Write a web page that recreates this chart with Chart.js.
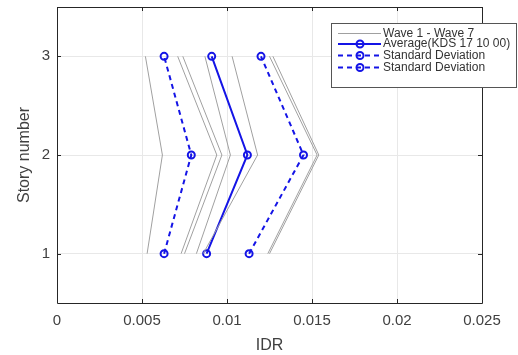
<!DOCTYPE html>
<html>
<head>
<meta charset="utf-8">
<script src="https://cdn.jsdelivr.net/npm/chart.js@4/dist/chart.umd.min.js"></script>
<style>
  html, body { margin: 0; padding: 0; background: #fff; }
  #wrap { width: 518px; height: 355px; }
</style>
</head>
<body>
<div id="wrap"><canvas id="myChart"></canvas></div>
<script>
// story levels (y) and inter-story drift ratios (x), listed story 1 -> 3
var stories = [1, 2, 3];
var wave1 = [0.0053, 0.0062, 0.0052];
var wave2 = [0.0073, 0.0094, 0.0071];
var wave3 = [0.0075, 0.0097, 0.0074];
var wave4 = [0.0082, 0.0102, 0.0087];
var wave5 = [0.0086, 0.0118, 0.0103];
var wave6 = [0.0124, 0.0153, 0.0125];
var wave7 = [0.0125, 0.0154, 0.0127];
var average = [0.0088, 0.0112, 0.0091];
var sdLow = [0.0063, 0.0079, 0.0063];
var sdHigh = [0.0113, 0.0145, 0.0120];

var xTicks = [0, 0.005, 0.01, 0.015, 0.02, 0.025];
var yTicks = [1, 2, 3];
var legendLabels = ['Wave 1 - Wave 7', 'Average(KDS 17 10 00)', 'Standard Deviation', 'Standard Deviation'];

var blue = 'rgb(20,20,230)';
var gray = 'rgb(160,160,160)';

function toPoints(xs) {
  return xs.map(function (x, i) { return { x: x, y: stories[i] }; });
}

var waves = [wave1, wave2, wave3, wave4, wave5, wave6, wave7];
var datasets = waves.map(function (w) {
  return { data: toPoints(w), showLine: true, borderColor: gray, borderWidth: 1, pointRadius: 0 };
});
datasets.push({ data: toPoints(average), showLine: true, borderColor: blue, borderWidth: 2,
  pointRadius: 3.5, pointBorderWidth: 2, pointBorderColor: blue, pointBackgroundColor: 'rgba(0,0,0,0)' });
[sdLow, sdHigh].forEach(function (s) {
  datasets.push({ data: toPoints(s), showLine: true, borderColor: blue, borderWidth: 2, borderDash: [5, 4],
    pointRadius: 3.5, pointBorderWidth: 2, pointBorderColor: blue, pointBackgroundColor: 'rgba(0,0,0,0)' });
});

// axes box, inward ticks and legend, MATLAB style
var boxPlugin = {
  id: 'box',
  afterDraw: function (chart) {
    var ctx = chart.ctx, a = chart.chartArea;
    var xs = chart.scales.x, ys = chart.scales.y;
    ctx.save();
    ctx.strokeStyle = '#262626';
    ctx.lineWidth = 1;
    ctx.beginPath();
    ctx.rect(Math.round(a.left) + 0.5, Math.round(a.top) + 0.5, Math.round(a.right - a.left), Math.round(a.bottom - a.top));
    xTicks.forEach(function (t) {
      var px = Math.round(xs.getPixelForValue(t)) + 0.5;
      ctx.moveTo(px, a.bottom); ctx.lineTo(px, a.bottom - 4);
      ctx.moveTo(px, a.top); ctx.lineTo(px, a.top + 4);
    });
    yTicks.forEach(function (t) {
      var py = Math.round(ys.getPixelForValue(t)) + 0.5;
      ctx.moveTo(a.left, py); ctx.lineTo(a.left + 4, py);
      ctx.moveTo(a.right, py); ctx.lineTo(a.right - 4, py);
    });
    ctx.stroke();

    // legend
    var lx = 331.5, ly = 23.5, lw = 185, lh = 64;
    ctx.fillStyle = '#fff';
    ctx.fillRect(lx, ly, lw, lh);
    ctx.strokeStyle = '#555';
    ctx.strokeRect(lx, ly, lw, lh);
    var rows = [33.5, 44, 55.5, 67.5];
    ctx.font = '12px "Liberation Sans", Arial, sans-serif';
    ctx.textBaseline = 'middle';
    ctx.textAlign = 'left';
    rows.forEach(function (y, i) {
      ctx.beginPath();
      if (i === 0) { ctx.strokeStyle = gray; ctx.lineWidth = 1; ctx.setLineDash([]); }
      else { ctx.strokeStyle = blue; ctx.lineWidth = 2; ctx.setLineDash(i === 1 ? [] : [5, 4]); }
      ctx.moveTo(338, y); ctx.lineTo(381, y);
      ctx.stroke();
      ctx.setLineDash([]);
      if (i > 0) {
        ctx.beginPath();
        ctx.arc(360, y, 3.5, 0, Math.PI * 2);
        ctx.stroke();
      }
      ctx.fillStyle = '#333';
      ctx.fillText(legendLabels[i], 383, y);
    });
    ctx.restore();
  }
};

var ctx = document.getElementById('myChart').getContext('2d');
var myChart = new Chart(ctx, {
  type: 'scatter',
  data: { datasets: datasets },
  plugins: [boxPlugin],
  options: {
    responsive: true,
    maintainAspectRatio: false,
    animation: false,
    layout: { padding: { left: 0, right: 36, top: 7, bottom: 0 } },
    plugins: { legend: { display: false }, tooltip: { enabled: false } },
    scales: {
      x: {
        type: 'linear', min: 0, max: 0.025,
        afterBuildTicks: function (s) { s.ticks = xTicks.map(function (v) { return { value: v }; }); },
        afterFit: function (s) { s.height = 52; s.paddingLeft = 0; s.paddingRight = 0; },
        grid: { color: 'rgb(232,232,232)', drawTicks: false },
        border: { display: false },
        ticks: { padding: 9, color: '#404040', font: { size: 15, family: '"Liberation Sans", Arial, sans-serif' },
          maxRotation: 0, callback: function (v) { return String(+v.toFixed(3)); } },
        title: { display: true, text: 'IDR', color: '#404040', padding: { top: 0, bottom: 0 },
          font: { size: 16, family: '"Liberation Sans", Arial, sans-serif' } }
      },
      y: {
        type: 'linear', min: 0.5, max: 3.5,
        afterBuildTicks: function (s) { s.ticks = yTicks.map(function (v) { return { value: v }; }); },
        afterFit: function (s) { s.width = 57; s.paddingTop = 0; s.paddingBottom = 0; },
        grid: { color: 'rgb(232,232,232)', drawTicks: false },
        border: { display: false },
        ticks: { padding: 7, color: '#404040', font: { size: 15, family: '"Liberation Sans", Arial, sans-serif' } },
        title: { display: true, text: 'Story number', color: '#404040', padding: { top: 15, bottom: 0 },
          font: { size: 16, family: '"Liberation Sans", Arial, sans-serif' } }
      }
    }
  }
});
</script>
</body>
</html>
